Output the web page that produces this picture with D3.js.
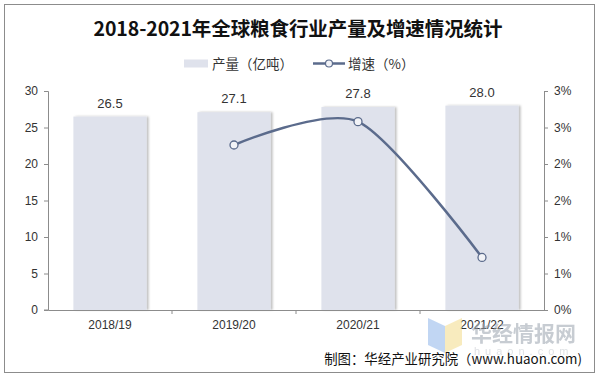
<!DOCTYPE html>
<html>
<head>
<meta charset="utf-8">
<script src="https://cdn.jsdelivr.net/npm/d3@7"></script>
<style>
  body { margin: 0; background: #fff; }
  svg text { font-family: "Liberation Sans", Arial, "Noto Sans CJK SC", sans-serif; fill: #333; }
  .cjk { font-family: "Noto Sans CJK SC", sans-serif; }
</style>
</head>
<body>
<svg id="chart" width="599" height="379"></svg>
<script>
const YEARS = ["2018/19", "2019/20", "2020/21", "2021/22"];
const OUTPUT = [26.5, 27.1, 27.8, 28.0];
const GROWTH = [null, 2.26, 2.58, 0.72];
const LEFT_TICKS = [0, 5, 10, 15, 20, 25, 30];
const RIGHT_TICKS = [0, 0.5, 1, 1.5, 2, 2.5, 3];

const svg = d3.select("#chart");
const plotLeft = 48, plotRight = 544, plotTop = 91, plotBottom = 310;

svg.append("rect")
  .attr("x", 4.5).attr("y", 4.5).attr("width", 590).attr("height", 368)
  .attr("fill", "#fff").attr("stroke", "#8c8c8c");

const x = d3.scaleBand().domain(YEARS).range([plotLeft, plotRight]).paddingInner(0.41).paddingOuter(0.205);
const xBand = d3.scaleBand().domain(YEARS).range([plotLeft, plotRight]);
const y = d3.scaleLinear().domain([0, 30]).range([plotBottom, plotTop]);
const y2 = d3.scaleLinear().domain([0, 3]).range([plotBottom, plotTop]);

// title
svg.append("text")
  .attr("class", "cjk")
  .attr("x", 298).attr("y", 36)
  .attr("text-anchor", "middle")
  .attr("font-size", 19.5).attr("font-weight", 700)
  .attr("textLength", 409)
  .style("fill", "#111")
  .text("2018-2021年全球粮食行业产量及增速情况统计");

// legend
const lg = svg.append("g").attr("transform", "translate(0,63.5)");
lg.append("rect").attr("x", 184).attr("y", -4).attr("width", 24).attr("height", 8).attr("fill", "#dfe2ec");
lg.append("text").attr("class", "cjk").attr("x", 212).attr("y", 5).attr("font-size", 13.5).text("产量（亿吨）");
lg.append("line").attr("x1", 313).attr("x2", 345).attr("y1", 0).attr("y2", 0)
  .attr("stroke", "#5b6b8c").attr("stroke-width", 2.5);
lg.append("circle").attr("cx", 329).attr("cy", 0).attr("r", 3.5)
  .attr("fill", "#f2f3f7").attr("stroke", "#5b6b8c").attr("stroke-width", 1.2);
lg.append("text").attr("class", "cjk").attr("x", 348).attr("y", 5).attr("font-size", 13.5).text("增速（%）");

// bars
const defs = svg.append("defs");
const f = defs.append("filter").attr("id", "shadow").attr("x", "-10%").attr("y", "-10%").attr("width", "130%").attr("height", "120%");
f.append("feDropShadow").attr("dx", 2).attr("dy", 0).attr("stdDeviation", 1.2)
  .attr("flood-color", "#000").attr("flood-opacity", 0.25);

svg.append("g").selectAll("rect")
  .data(YEARS)
  .join("rect")
  .attr("x", d => x(d))
  .attr("y", (d, i) => y(OUTPUT[i]))
  .attr("width", x.bandwidth())
  .attr("height", (d, i) => y(0) - y(OUTPUT[i]))
  .attr("fill", "#dfe2ec")
  .attr("filter", "url(#shadow)");

svg.append("g").selectAll("text")
  .data(YEARS)
  .join("text")
  .attr("x", d => x(d) + x.bandwidth() / 2)
  .attr("y", (d, i) => y(OUTPUT[i]) - 9)
  .attr("text-anchor", "middle")
  .attr("font-size", 13)
  .text((d, i) => OUTPUT[i].toFixed(1));

// axes
const axisColor = "#8c8c8c";
const yAxis = svg.append("g")
  .attr("transform", `translate(${plotLeft},0)`)
  .call(d3.axisLeft(y).tickValues(LEFT_TICKS).tickSize(4).tickPadding(6));
yAxis.selectAll("text").attr("font-size", 12).style("fill", "#333");

const y2Axis = svg.append("g")
  .attr("transform", `translate(${plotRight},0)`)
  .call(d3.axisRight(y2).tickValues(RIGHT_TICKS).tickSize(4).tickPadding(6)
    .tickFormat(d => Math.round(d + 1e-9) + "%"));
y2Axis.selectAll("text").attr("font-size", 12).style("fill", "#333");

const xAxis = svg.append("g")
  .attr("transform", `translate(0,${plotBottom})`)
  .call(d3.axisBottom(xBand).tickSize(0).tickPadding(10));
xAxis.selectAll("text").attr("font-size", 12).style("fill", "#333");
xAxis.selectAll(".sep")
  .data(YEARS.slice(1))
  .join("line")
  .attr("class", "sep")
  .attr("x1", d => xBand(d)).attr("x2", d => xBand(d))
  .attr("y1", 0).attr("y2", 4)
  .attr("stroke", axisColor);
xAxis.append("line").attr("x1", plotLeft - 4).attr("x2", plotLeft).attr("y1", 0).attr("y2", 0).attr("stroke", axisColor);

svg.selectAll(".domain, .tick line").attr("stroke", axisColor);

// growth line
const pts = YEARS.map((d, i) => ({ x: xBand(d) + xBand.bandwidth() / 2, v: GROWTH[i] }))
  .filter(p => p.v !== null);
svg.append("path")
  .datum(pts)
  .attr("d", d3.line().x(p => p.x).y(p => y2(p.v)).curve(d3.curveCardinal.tension(0.2)))
  .attr("fill", "none")
  .attr("stroke", "#5b6b8c")
  .attr("stroke-width", 2.5);
svg.append("g").selectAll("circle")
  .data(pts)
  .join("circle")
  .attr("cx", p => p.x).attr("cy", p => y2(p.v))
  .attr("r", 4)
  .attr("fill", "#f2f3f7").attr("stroke", "#5b6b8c").attr("stroke-width", 1.3);

// watermark
const wm = svg.append("g").attr("opacity", 0.55);
wm.append("path").attr("d", "M428,318 L445,326 L445,353 L428,345 Z").attr("fill", "#8fb6ea");
wm.append("path").attr("d", "M445,326 L462,318 L462,345 L445,353 Z").attr("fill", "#f3dc8a");
wm.append("text").attr("class", "cjk").attr("x", 471).attr("y", 341)
  .attr("font-size", 21).attr("font-weight", 700).style("fill", "#9aa3ae").text("华经情报网");
wm.append("text").attr("x", 474).attr("y", 355)
  .attr("font-size", 11).attr("letter-spacing", 5).style("fill", "#c4c9cf").text("huaon.com");

// source
svg.append("text")
  .attr("class", "cjk")
  .attr("x", 582).attr("y", 364)
  .attr("text-anchor", "end")
  .attr("font-size", 13.4)
  .style("fill", "#111")
  .text("制图：华经产业研究院（www.huaon.com)");
</script>
</body>
</html>
